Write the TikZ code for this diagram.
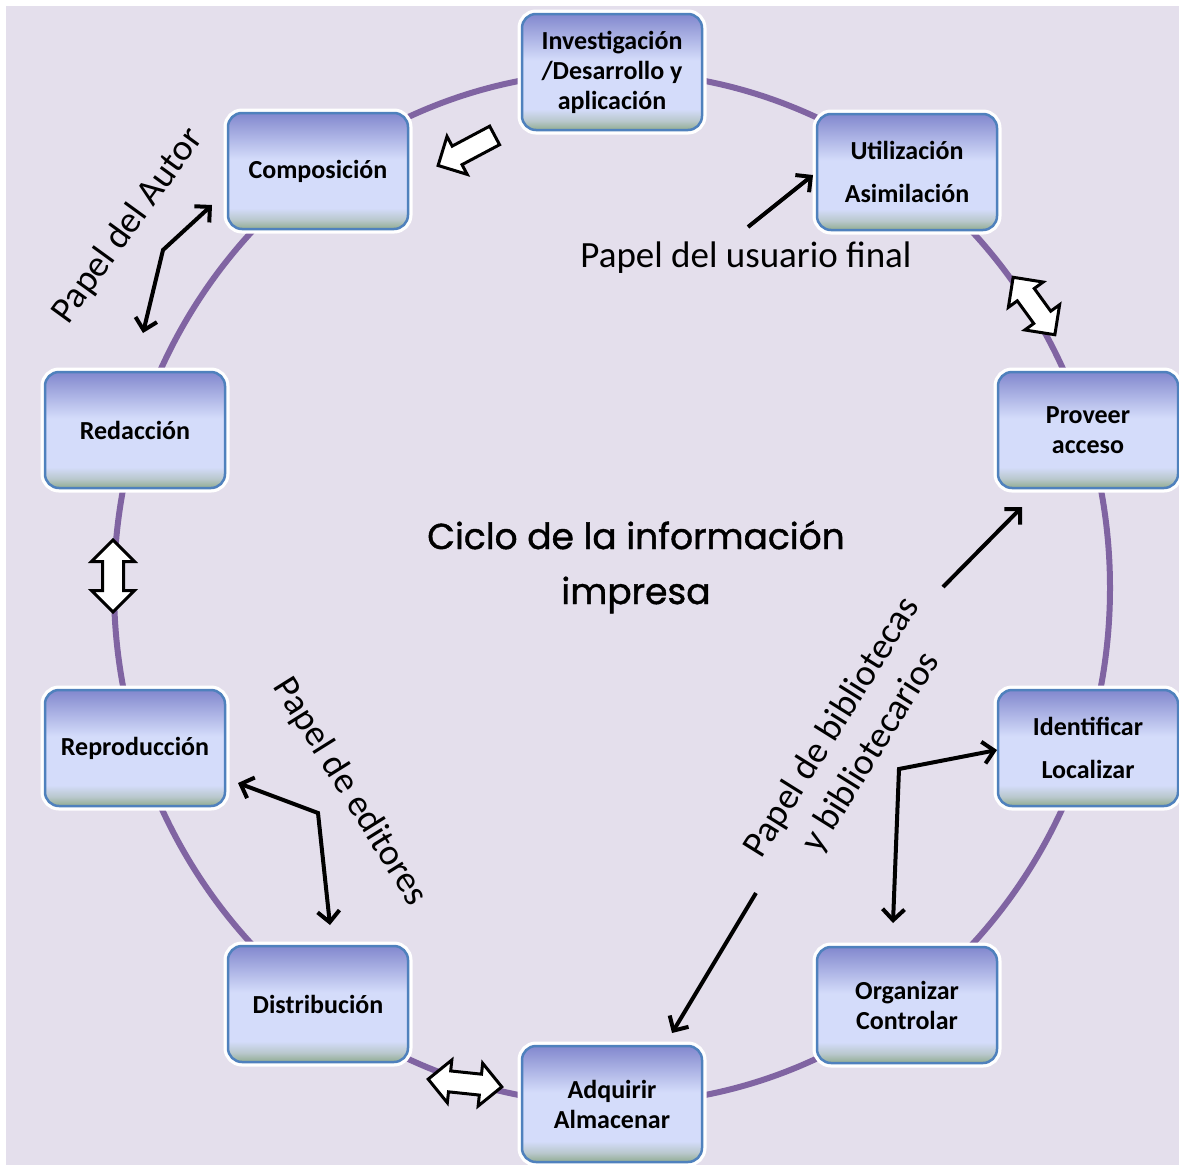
\documentclass[tikz,border=0pt]{standalone}
\usepackage{fontspec}
\setmainfont{Carlito}
\newfontfamily\titlefont{Poppins}[BoldFont=Poppins, BoldFeatures={FakeBold=1.2}]
\usetikzlibrary{arrows.meta,shapes.arrows}

\definecolor{bgpaper}{RGB}{228,223,236}
\definecolor{ringline}{RGB}{128,100,162}
\definecolor{boxtop}{RGB}{130,136,206}
\definecolor{boxmid}{RGB}{212,220,250}
\definecolor{boxblend}{RGB}{185,200,205}
\definecolor{boxfoot}{RGB}{145,172,145}
\definecolor{boxedge}{RGB}{79,129,189}

\pgfdeclareverticalshading{stageshade}{100bp}{color(0bp)=(boxfoot); color(25bp)=(boxfoot); color(29bp)=(boxblend); color(34bp)=(boxmid); color(55bp)=(boxmid); color(75bp)=(boxtop); color(100bp)=(boxtop)}

\tikzset{
  stage/.style={rectangle, rounded corners=14pt, minimum width=180pt, minimum height=116pt,
    inner sep=2pt, align=center, shading=stageshade, draw=boxedge, line width=2.5pt,
    preaction={draw=white, line width=9pt}, font=\fontsize{26}{30}\selectfont\bfseries},
  role/.style={font=\fontsize{37}{46}\selectfont, align=center},
  fatdbl/.style={double arrow, draw=black, fill=white, line width=3pt, inner xsep=0pt,
    inner ysep=9pt, double arrow head extend=11pt},
  fatone/.style={single arrow, draw=black, fill=white, line width=3pt, inner xsep=0pt,
    inner ysep=9pt, single arrow head extend=11pt},
  link/.style={draw=black, line width=4pt},
}

\begin{document}
\begin{tikzpicture}[x=1pt, y=-1pt]
  \useasboundingbox (0,0) rectangle (1179,1165);
  \fill[bgpaper] (6,6) rectangle (1179,1165);
  \draw[ringline, line width=6pt] (612,588) ellipse [x radius=498, y radius=516];

  \node[fatone, minimum height=64pt, rotate=208] (back) at (471,148) {};
  \node[fatdbl, minimum height=71pt, rotate=-54] (useacc) at (1034,306) {};
  \node[fatdbl, minimum height=72pt, rotate=90] (redrep) at (113,576) {};
  \node[fatdbl, minimum height=74pt, rotate=-6] (disadq) at (465,1083) {};

  \node[stage] (inv) at (612,72) {Investigación\\/Desarrollo y\\aplicación};
  \node[stage] (uti) at (907,172) {Utilización\\[13pt]Asimilación};
  \node[stage] (pro) at (1088,430) {Proveer\\acceso};
  \node[stage] (ide) at (1088,748) {Identificar\\[13pt]Localizar};
  \node[stage] (org) at (907,1005) {Organizar\\Controlar};
  \node[stage] (adq) at (612,1104) {Adquirir\\Almacenar};
  \node[stage] (dis) at (318,1004) {Distribución};
  \node[stage] (rep) at (135,748) {Reproducción};
  \node[stage] (red) at (135,430) {Redacción};
  \node[stage] (com) at (318,171) {Composición};

  \coordinate (autA) at (212,205);
  \coordinate (autB) at (163,250);
  \coordinate (autC) at (143,333);
  \coordinate (ediA) at (238,783);
  \coordinate (ediB) at (318,813);
  \coordinate (ediC) at (330,925);
  \coordinate (locA) at (997,750);
  \coordinate (locB) at (899,769);
  \coordinate (locC) at (893,923);
  \coordinate (usrA) at (748,227);
  \coordinate (usrB) at (813,175);
  \coordinate (bibA) at (943,587);
  \coordinate (bibB) at (1022,507);
  \coordinate (bibC) at (756,893);
  \coordinate (bibD) at (672,1033);

  \begin{scope}[>={Straight Barb[length=11pt,width=22pt]}]
    \draw[link, <->] (autA) -- (autB) -- (autC);
    \draw[link, <->] (ediA) -- (ediB) -- (ediC);
    \draw[link, <->] (locA) -- (locB) -- (locC);
    \draw[link, ->] (usrA) -- (usrB);
    \draw[link, ->] (bibA) -- (bibB);
    \draw[link, ->] (bibC) -- (bibD);
  \end{scope}

  \node[role, rotate=54] (autor) at (128,226) {Papel del Autor};
  \node[role] (usuario) at (746,258) {Papel del usuario final};
  \node[role, rotate=-58] (editores) at (350,792) {Papel de editores};
  \node[role, rotate=58] (biblio) at (852,740) {Papel de bibliotecas\\y bibliotecarios};
  \node[align=center, font=\titlefont\bfseries\fontsize{36}{55}\selectfont] (ciclo) at (636,567)
    {Ciclo de la información\\impresa};
\end{tikzpicture}
\end{document}
